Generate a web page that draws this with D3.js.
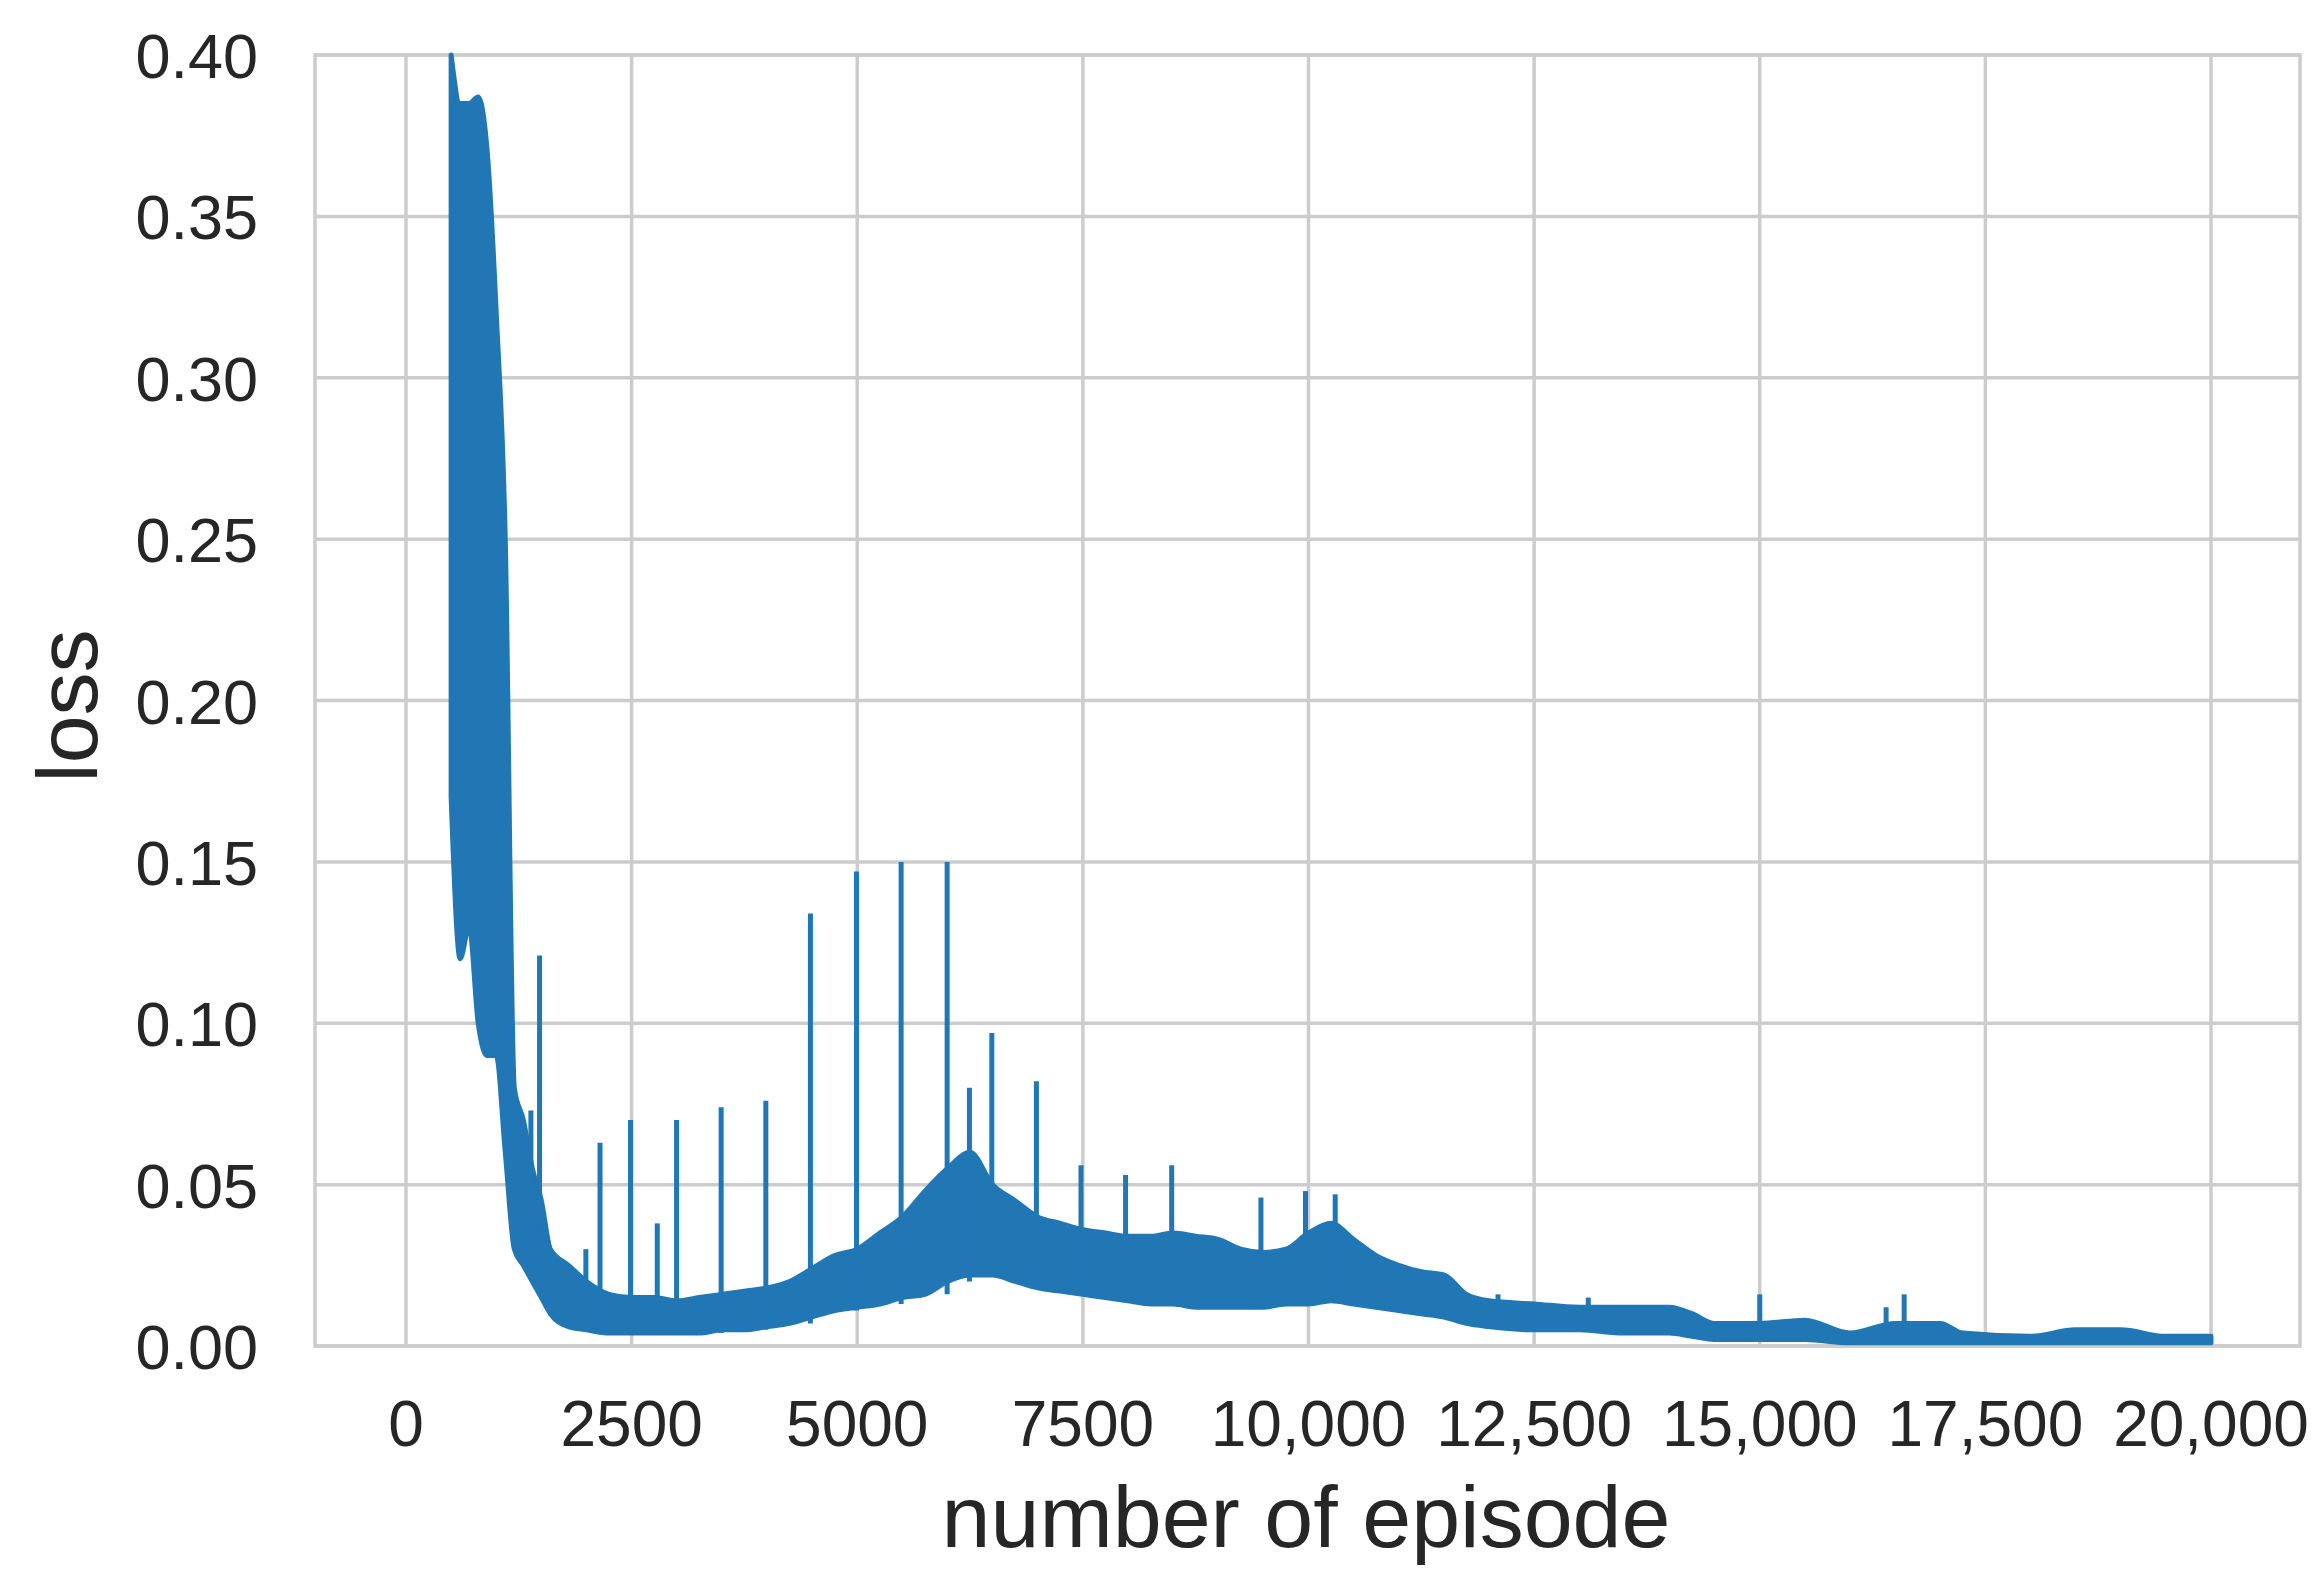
<!DOCTYPE html>
<html><head><meta charset="utf-8">
<script src="https://cdn.jsdelivr.net/npm/d3@7"></script>
<style>body{margin:0;background:#fff}</style></head>
<body><svg id="c" width="2320" height="1571"></svg>
<script>
// band of the noisy loss curve: episode grid, lower and upper envelope
const episodes = [500,600,700,800,900,1000,1100,1200,1300,1400,1500,1600,1800,2000,2250,2500,2750,3000,3250,3500,3750,4000,4250,4500,4750,5000,5250,5500,5750,6000,6250,6500,6750,7000,7250,7500,7750,8000,8250,8500,8750,9000,9250,9500,9750,10000,10250,10500,10750,11000,11250,11500,11750,12000,12500,13000,13500,14000,14250,14500,15000,15500,16000,16500,17000,17250,18000,18500,19000,19500,20000];
const lossLow = [0.17,0.12,0.13,0.10,0.09,0.09,0.06,0.03,0.025,0.02,0.015,0.01,0.006,0.005,0.004,0.004,0.004,0.004,0.004,0.005,0.005,0.006,0.007,0.009,0.011,0.012,0.013,0.015,0.016,0.02,0.022,0.022,0.02,0.018,0.017,0.016,0.015,0.014,0.013,0.013,0.012,0.012,0.012,0.012,0.013,0.013,0.014,0.013,0.012,0.011,0.010,0.009,0.007,0.006,0.005,0.005,0.004,0.004,0.003,0.002,0.002,0.002,0.001,0.001,0.001,0.001,0.001,0.001,0.001,0.001,0.001];
const lossHigh = [0.40,0.385,0.385,0.387,0.37,0.32,0.25,0.08,0.07,0.055,0.045,0.03,0.025,0.02,0.016,0.015,0.015,0.014,0.015,0.016,0.017,0.018,0.02,0.024,0.028,0.03,0.035,0.04,0.048,0.055,0.06,0.05,0.045,0.04,0.038,0.036,0.035,0.034,0.034,0.035,0.034,0.033,0.03,0.029,0.03,0.035,0.038,0.033,0.028,0.025,0.023,0.022,0.016,0.014,0.013,0.012,0.012,0.012,0.01,0.007,0.007,0.008,0.004,0.007,0.007,0.004,0.003,0.005,0.005,0.003,0.003];
// isolated spikes
const spikeEpisodes = [1384,1480,1993,2150,2488,2784,2998,3492,3987,4481,4992,5486,5996,6243,6491,6985,7479,7973,8484,9473,9967,10296,12100,13100,15000,16400,16600];
const spikePeaks = [0.073,0.121,0.03,0.063,0.07,0.038,0.07,0.074,0.076,0.134,0.147,0.15,0.15,0.08,0.097,0.082,0.056,0.053,0.056,0.046,0.048,0.047,0.016,0.015,0.016,0.012,0.016];
const xTicks = [0,2500,5000,7500,10000,12500,15000,17500,20000];
const xTickLabels = ["0","2500","5000","7500","10,000","12,500","15,000","17,500","20,000"];
const yTicks = [0,0.05,0.10,0.15,0.20,0.25,0.30,0.35,0.40];

const L=315,R=2300,T=55,B=1346;
const svg=d3.select("#c");
const x=d3.scaleLinear().domain([0,20000]).range([406,2211]);
const y=d3.scaleLinear().domain([0,0.4]).range([B,T]);
const font="Arial, 'Liberation Sans', sans-serif";
const col="#2176b4";
svg.selectAll(".vx").data(xTicks).join("line").attr("x1",d=>x(d)).attr("x2",d=>x(d)).attr("y1",T).attr("y2",B).attr("stroke","#cccccc").attr("stroke-width",3.5);
svg.selectAll(".hy").data(yTicks).join("line").attr("x1",L).attr("x2",R).attr("y1",d=>y(d)).attr("y2",d=>y(d)).attr("stroke","#cccccc").attr("stroke-width",3.5);
svg.append("rect").attr("x",L).attr("y",T).attr("width",R-L).attr("height",B-T).attr("fill","none").attr("stroke","#cccccc").attr("stroke-width",3.5);
const idx=d3.range(episodes.length);
const area=d3.area().x(i=>x(episodes[i])).y0(i=>y(lossLow[i])).y1(i=>y(lossHigh[i])).curve(d3.curveMonotoneX);
svg.append("path").datum(idx).attr("d",area).attr("fill",col).attr("stroke",col).attr("stroke-width",5).attr("stroke-linejoin","round");
// base of spike: interpolate band's lower edge position from the data grid
const lowAt=e=>{const j=d3.bisectRight(episodes,e)-1;return lossLow[Math.max(0,j)];};
svg.selectAll(".sp").data(spikeEpisodes).join("line")
  .attr("x1",d=>x(d)).attr("x2",d=>x(d)).attr("y1",d=>y(lowAt(d))).attr("y2",(d,i)=>y(spikePeaks[i]))
  .attr("stroke",col).attr("stroke-width",5);
svg.selectAll(".xt").data(xTicks).join("text").attr("x",d=>x(d)).attr("y",1446).attr("text-anchor","middle").attr("font-family",font).attr("font-size",64).attr("fill","#262626").text((d,i)=>xTickLabels[i]);
svg.selectAll(".yt").data(yTicks).join("text").attr("x",258).attr("y",d=>y(d)+23).attr("text-anchor","end").attr("font-family",font).attr("font-size",63).attr("fill","#262626").text(d=>d.toFixed(2));
svg.append("text").attr("x",1306).attr("y",1547).attr("text-anchor","middle").attr("font-family",font).attr("font-size",88).attr("fill","#262626").text("number of episode");
svg.append("text").attr("transform","translate(97,706) rotate(-90)").attr("text-anchor","middle").attr("font-family",font).attr("font-size",86).attr("fill","#262626").text("loss");
</script></body></html>
